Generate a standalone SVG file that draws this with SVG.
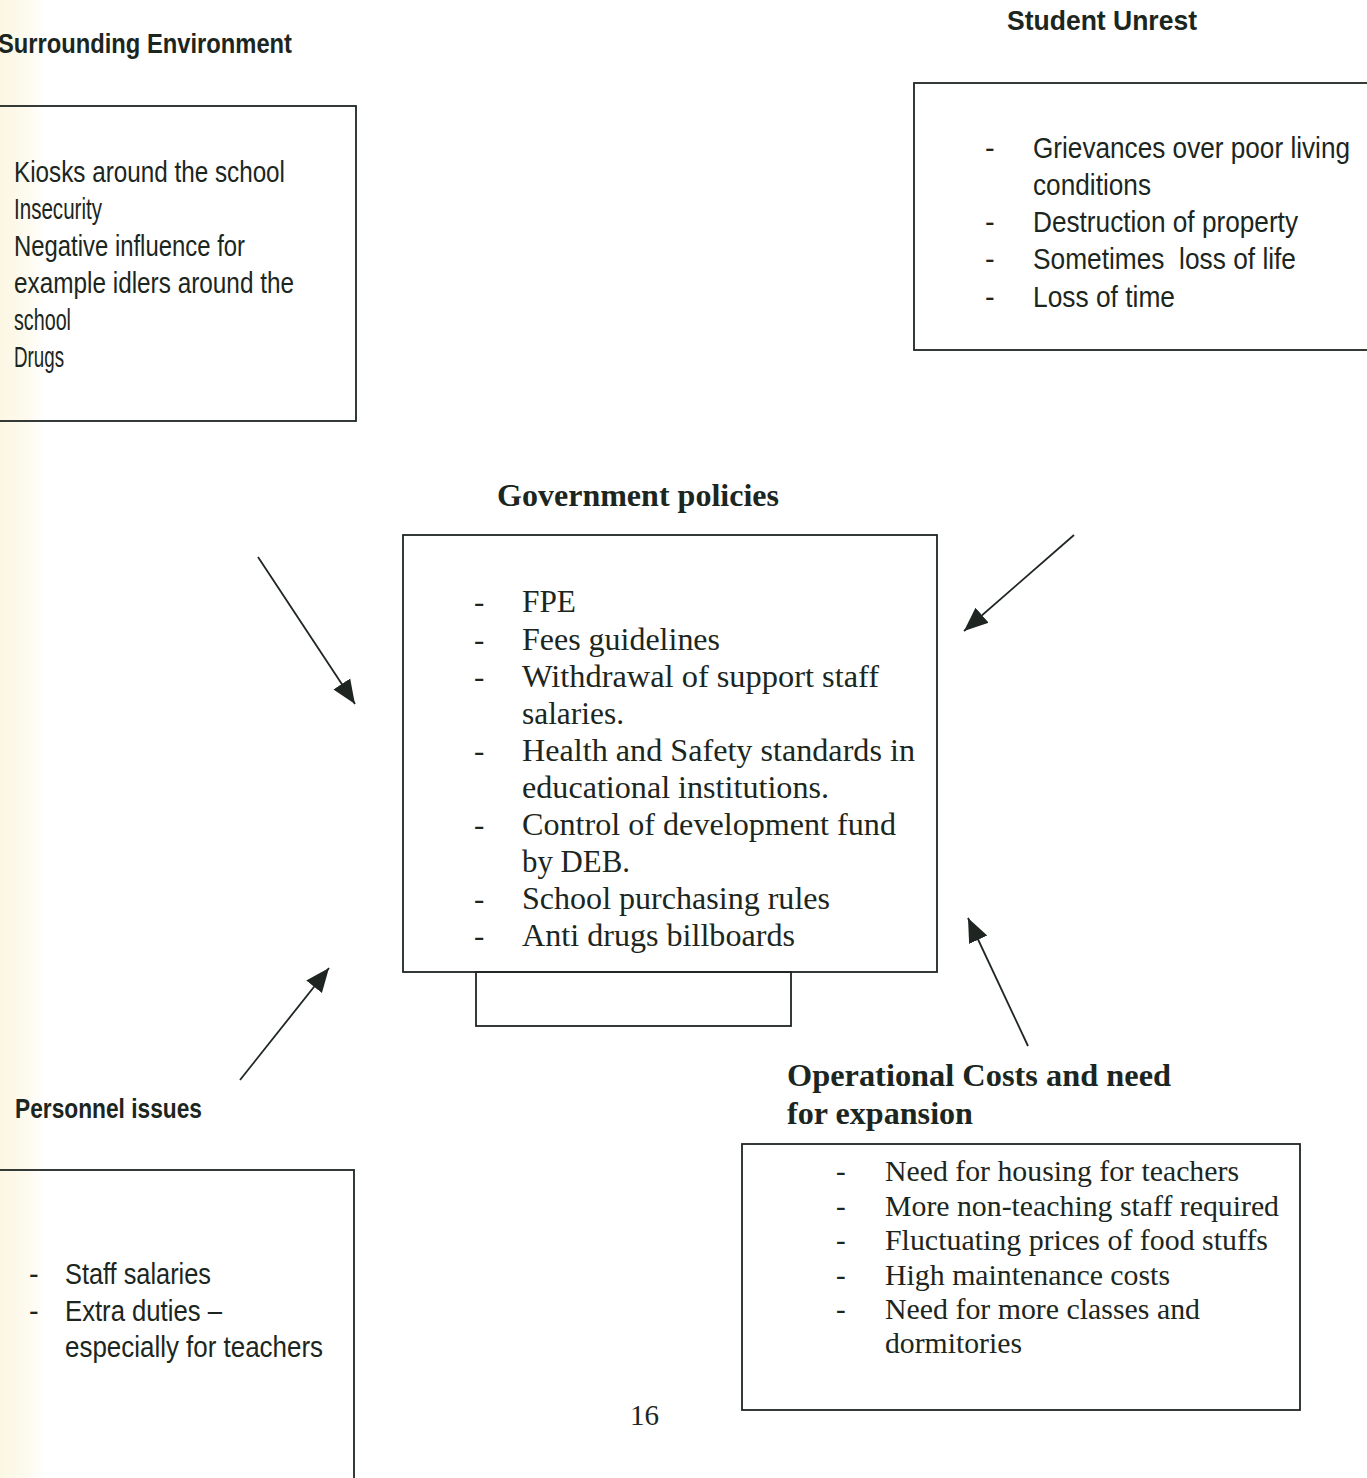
<svg xmlns="http://www.w3.org/2000/svg" width="1367" height="1478" viewBox="0 0 1367 1478">
  <style>
    .box { fill: none; stroke: #1f2622; stroke-width: 1.8; }
    .link { stroke: #1f2622; stroke-width: 1.8; fill: none; }
    .sh { font-family: "Liberation Sans", Arial, sans-serif; font-weight: bold; font-size: 28px; fill: #1c2620; }
    .sb { font-family: "Liberation Sans", Arial, sans-serif; font-size: 29px; fill: #1c2620; }
    .rh { font-family: "Liberation Serif", "Times New Roman", serif; font-weight: bold; font-size: 31px; fill: #1c2620; }
    .rb { font-family: "Liberation Serif", "Times New Roman", serif; font-size: 31px; fill: #1c2620; }
    .rs { font-family: "Liberation Serif", "Times New Roman", serif; font-size: 29px; fill: #1c2620; }
  </style>
  <defs>
    <marker id="arrow" markerUnits="userSpaceOnUse" markerWidth="26" markerHeight="22" viewBox="0 0 26 22" refX="24" refY="11" orient="auto">
      <path d="M0,1 L24,11 L0,21 Z" fill="#1f2622"/>
    </marker>
    <linearGradient id="edge" x1="0" y1="0" x2="1" y2="0">
      <stop offset="0" stop-color="#fcf7e3"/>
      <stop offset="0.6" stop-color="#fdfaef"/>
      <stop offset="1" stop-color="#ffffff"/>
    </linearGradient>
  </defs>
  <rect x="0" y="0" width="1367" height="1478" fill="#ffffff"/>
  <rect x="0" y="0" width="45" height="1478" fill="url(#edge)"/>

  <g id="surrounding-environment">
    <text class="sh" x="-2" y="53" textLength="294" lengthAdjust="spacingAndGlyphs">Surrounding Environment</text>
    <rect class="box" x="-5" y="106" width="361" height="315"/>
    <text class="sb" x="14" y="182" textLength="271" lengthAdjust="spacingAndGlyphs">Kiosks around the school</text>
    <text class="sb" x="14" y="219" textLength="88" lengthAdjust="spacingAndGlyphs">Insecurity</text>
    <text class="sb" x="14" y="256" textLength="231" lengthAdjust="spacingAndGlyphs">Negative influence for</text>
    <text class="sb" x="14" y="293" textLength="280" lengthAdjust="spacingAndGlyphs">example idlers around the</text>
    <text class="sb" x="14" y="330" textLength="57" lengthAdjust="spacingAndGlyphs">school</text>
    <text class="sb" x="14" y="367" textLength="50" lengthAdjust="spacingAndGlyphs">Drugs</text>
  </g>

  <g id="student-unrest">
    <text class="sh" x="1007" y="30" textLength="190" lengthAdjust="spacingAndGlyphs">Student Unrest</text>
    <rect class="box" x="914" y="83" width="460" height="267"/>
    <text class="sb" x="985" y="158">-</text>
    <text class="sb" x="1033" y="158" textLength="317" lengthAdjust="spacingAndGlyphs">Grievances over poor living</text>
    <text class="sb" x="1033" y="195" textLength="118" lengthAdjust="spacingAndGlyphs">conditions</text>
    <text class="sb" x="985" y="232">-</text>
    <text class="sb" x="1033" y="232" textLength="265" lengthAdjust="spacingAndGlyphs">Destruction of property</text>
    <text class="sb" x="985" y="269">-</text>
    <text class="sb" x="1033" y="269" textLength="263" lengthAdjust="spacingAndGlyphs" xml:space="preserve">Sometimes  loss of life</text>
    <text class="sb" x="985" y="307">-</text>
    <text class="sb" x="1033" y="307" textLength="142" lengthAdjust="spacingAndGlyphs">Loss of time</text>
  </g>

  <g id="government-policies">
    <text class="rh" x="497" y="506" textLength="282" lengthAdjust="spacingAndGlyphs">Government policies</text>
    <rect class="box" x="403" y="535" width="534" height="437"/>
    <rect class="box" x="476" y="972" width="315" height="54"/>
    <text class="rb" x="474" y="612">-</text>
    <text class="rb" x="522" y="612" textLength="54" lengthAdjust="spacingAndGlyphs">FPE</text>
    <text class="rb" x="474" y="650">-</text>
    <text class="rb" x="522" y="650" textLength="198" lengthAdjust="spacingAndGlyphs">Fees guidelines</text>
    <text class="rb" x="474" y="687">-</text>
    <text class="rb" x="522" y="687" textLength="357" lengthAdjust="spacingAndGlyphs">Withdrawal of support staff</text>
    <text class="rb" x="522" y="724" textLength="102" lengthAdjust="spacingAndGlyphs">salaries.</text>
    <text class="rb" x="474" y="761">-</text>
    <text class="rb" x="522" y="761" textLength="393" lengthAdjust="spacingAndGlyphs">Health and Safety standards in</text>
    <text class="rb" x="522" y="798" textLength="307" lengthAdjust="spacingAndGlyphs">educational institutions.</text>
    <text class="rb" x="474" y="835">-</text>
    <text class="rb" x="522" y="835" textLength="374" lengthAdjust="spacingAndGlyphs">Control of development fund</text>
    <text class="rb" x="522" y="872" textLength="108" lengthAdjust="spacingAndGlyphs">by DEB.</text>
    <text class="rb" x="474" y="909">-</text>
    <text class="rb" x="522" y="909" textLength="308" lengthAdjust="spacingAndGlyphs">School purchasing rules</text>
    <text class="rb" x="474" y="946">-</text>
    <text class="rb" x="522" y="946" textLength="273" lengthAdjust="spacingAndGlyphs">Anti drugs billboards</text>
  </g>

  <g id="personnel-issues">
    <text class="sh" x="15" y="1118" textLength="187" lengthAdjust="spacingAndGlyphs">Personnel issues</text>
    <rect class="box" x="-5" y="1170" width="359" height="320"/>
    <text class="sb" x="29" y="1284">-</text>
    <text class="sb" x="65" y="1284" textLength="146" lengthAdjust="spacingAndGlyphs">Staff salaries</text>
    <text class="sb" x="29" y="1321">-</text>
    <text class="sb" x="65" y="1321" textLength="157" lengthAdjust="spacingAndGlyphs">Extra duties –</text>
    <text class="sb" x="65" y="1357" textLength="258" lengthAdjust="spacingAndGlyphs">especially for teachers</text>
  </g>

  <g id="operational-costs">
    <text class="rh" x="787" y="1086" textLength="384" lengthAdjust="spacingAndGlyphs">Operational Costs and need</text>
    <text class="rh" x="787" y="1124" textLength="186" lengthAdjust="spacingAndGlyphs">for expansion</text>
    <rect class="box" x="742" y="1144" width="558" height="266"/>
    <text class="rs" x="836" y="1181">-</text>
    <text class="rs" x="885" y="1181" textLength="354" lengthAdjust="spacingAndGlyphs">Need for housing for teachers</text>
    <text class="rs" x="836" y="1216">-</text>
    <text class="rs" x="885" y="1216" textLength="394" lengthAdjust="spacingAndGlyphs">More non-teaching staff required</text>
    <text class="rs" x="836" y="1250">-</text>
    <text class="rs" x="885" y="1250" textLength="383" lengthAdjust="spacingAndGlyphs">Fluctuating prices of food stuffs</text>
    <text class="rs" x="836" y="1285">-</text>
    <text class="rs" x="885" y="1285" textLength="285" lengthAdjust="spacingAndGlyphs">High maintenance costs</text>
    <text class="rs" x="836" y="1319">-</text>
    <text class="rs" x="885" y="1319" textLength="315" lengthAdjust="spacingAndGlyphs">Need for more classes and</text>
    <text class="rs" x="885" y="1353" textLength="137" lengthAdjust="spacingAndGlyphs">dormitories</text>
  </g>

  <g id="page-number">
    <text class="rs" x="630" y="1425">16</text>
  </g>

  <g id="connectors">
    <line class="link" x1="258" y1="557" x2="355" y2="704" marker-end="url(#arrow)"/>
    <line class="link" x1="1074" y1="535" x2="964" y2="631" marker-end="url(#arrow)"/>
    <line class="link" x1="240" y1="1080" x2="329" y2="968" marker-end="url(#arrow)"/>
    <line class="link" x1="1028" y1="1046" x2="968" y2="918" marker-end="url(#arrow)"/>
  </g>
</svg>
